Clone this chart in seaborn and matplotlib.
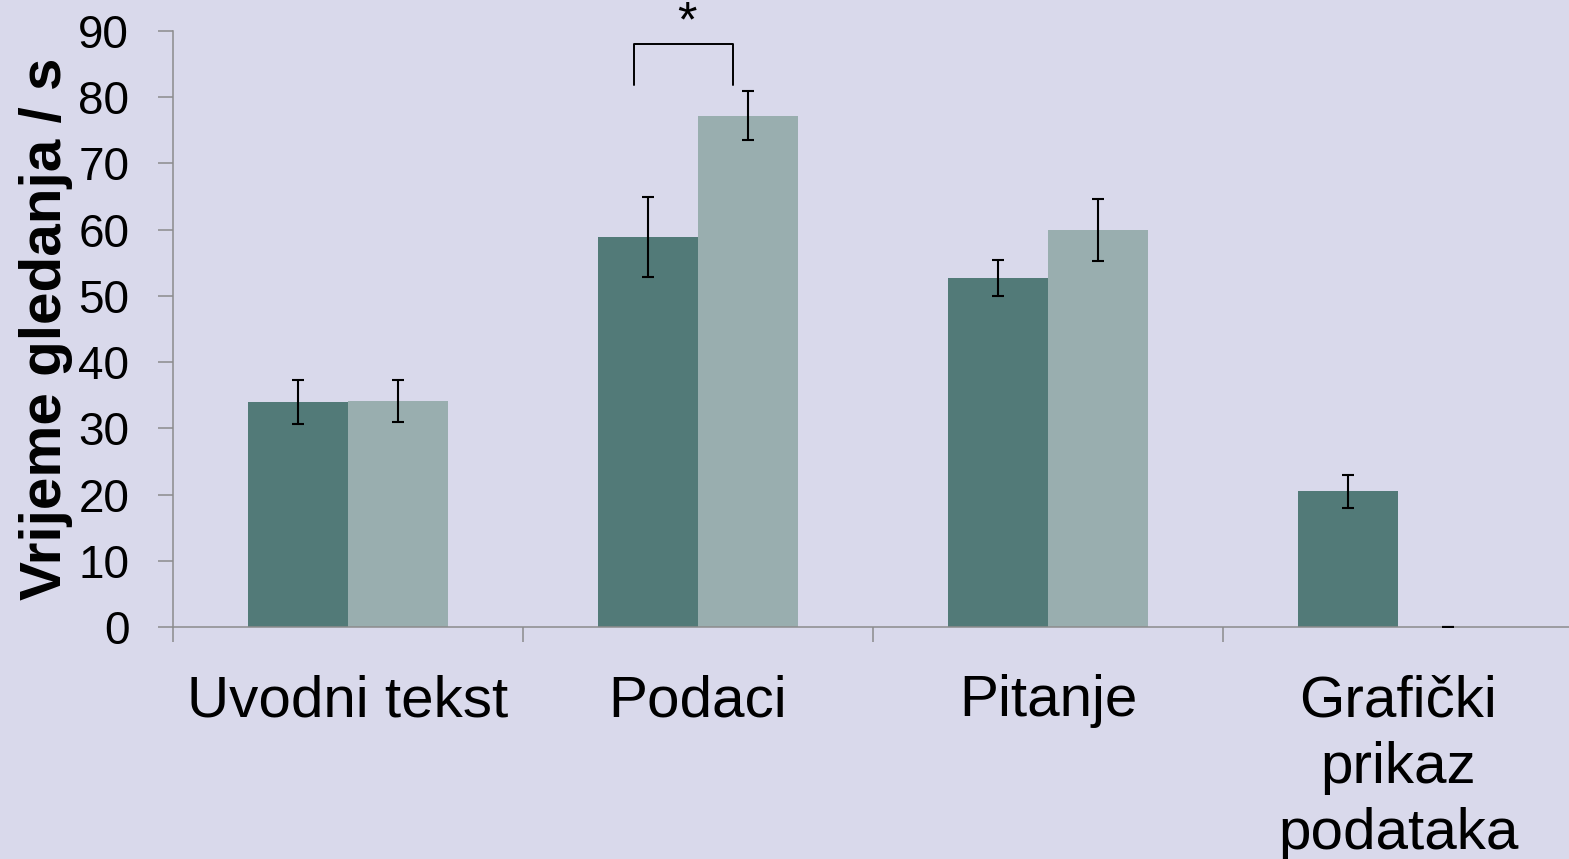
import matplotlib
matplotlib.use("Agg")
import matplotlib.pyplot as plt
import seaborn as sns
import pandas as pd

# Viewing time per screen region, two participant groups
categories = ["Uvodni tekst", "Podaci", "Pitanje", "Grafički\nprikaz\npodataka"]
group_names = ["Skupina 1", "Skupina 2"]
group1_values = [34.0, 58.9, 52.7, 20.5]
group2_values = [34.1, 77.2, 60.0, 0.0]
group1_errors = [3.3, 6.0, 2.7, 2.5]
group2_errors = [3.2, 3.7, 4.7, 0.0]
y_ticks = [0, 10, 20, 30, 40, 50, 60, 70, 80, 90]
y_label = "Vrijeme gledanja / s"

bg = "#D9D9EB"
colors = ["#527A78", "#99AEAF"]
axis_grey = "#8C8C8C"

sns.set_theme(style="white", rc={"axes.facecolor": bg, "figure.facecolor": bg})
plt.rcParams["font.family"] = ["Liberation Sans", "DejaVu Sans"]

df = pd.DataFrame({
    "kategorija": categories * 2,
    "skupina": [group_names[0]] * 4 + [group_names[1]] * 4,
    "vrijeme": group1_values + group2_values,
})

fig = plt.figure(figsize=(15.69, 8.59), dpi=100)
ax = fig.add_axes([173 / 1569, 1 - 627 / 859, 1400 / 1569, 596 / 859])

sns.barplot(data=df, x="kategorija", y="vrijeme", hue="skupina",
            order=categories, hue_order=group_names, palette=colors,
            saturation=1, width=0.571, errorbar=None, legend=False,
            linewidth=0, edgecolor="none", ax=ax)

# error bars on each bar
for container, errs in zip(ax.containers, [group1_errors, group2_errors]):
    for bar, e in zip(container, errs):
        cx = bar.get_x() + bar.get_width() / 2
        ax.errorbar(cx, bar.get_height(), yerr=e, fmt="none", ecolor="black",
                    elinewidth=1.5, capsize=4.5, capthick=1.5, zorder=5)

# significance bracket over "Podaci"
b_left = 1 - 0.183
b_right = 1 + 0.10
ax.plot([b_left, b_left, b_right, b_right], [81.8, 88.0, 88.0, 81.8],
        color="black", lw=1.4, clip_on=False, zorder=6)
ax.text(0.5 * (b_left + b_right) + 0.01, 91.2, "*", ha="center", va="center",
        fontsize=36, color="black", clip_on=False)

ax.set_xlim(-0.5, 3.5)
ax.set_ylim(0, 90)
ax.set_yticks(y_ticks)
ax.set_yticklabels([str(t) for t in y_ticks])
ax.set_xticks(range(len(categories)))
ax.set_xticklabels(categories, linespacing=1.3)
ax.set_xticks([-0.5, 0.5, 1.5, 2.5, 3.5], minor=True)

ax.tick_params(axis="x", which="major", length=0, pad=34, labelsize=42,
               labelcolor="black")
ax.tick_params(axis="x", which="minor", length=10.5, width=1.1,
               color=axis_grey, direction="out", bottom=True)
ax.tick_params(axis="y", which="major", length=10.5, width=1.1,
               color=axis_grey, direction="out", left=True, pad=21,
               labelsize=33, labelcolor="black")

ax.set_xlabel("")
ax.set_ylabel(y_label, fontsize=42, fontweight="bold", labelpad=4,
              color="black")

for side in ["top", "right"]:
    ax.spines[side].set_visible(False)
for side in ["left", "bottom"]:
    ax.spines[side].set_color(axis_grey)
    ax.spines[side].set_linewidth(1.1)

fig.savefig("out.png", dpi=100, facecolor=bg)
